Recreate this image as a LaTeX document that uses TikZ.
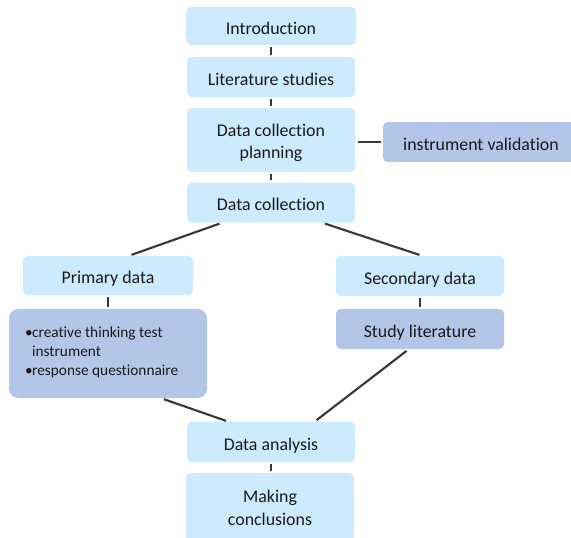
\documentclass[tikz,border=0pt]{standalone}
\usepackage{fontspec}
\setmainfont{Carlito}[Ligatures=CommonOff]
\usepackage{xcolor}
\usetikzlibrary{calc,positioning}
\definecolor{boxlight}{HTML}{CCEBFF}
\definecolor{boxdark}{HTML}{B4C6E7}
\definecolor{linkgray}{HTML}{383838}
\definecolor{textgray}{HTML}{1A1A1A}

\begin{document}
\begin{tikzpicture}[x=0.75pt,y=-0.75pt]
		\tikzstyle{every node}=[font=\fontsize{13.4}{16.3}\selectfont, text=textgray]
		\tikzstyle{box}=[fill=boxlight, rounded corners=3.5pt, minimum width=126pt, minimum height=30pt, align=flush center, inner sep=0pt, text height=12pt, text depth=0pt]
		\tikzstyle{boxdk}=[box, fill=boxdark]
		\tikzstyle{link}=[line width=1.6pt, draw=linkgray, shorten >=2pt, shorten <=2pt]
		\tikzstyle{tick}=[link, line width=1.8pt, shorten >=1.6pt, shorten <=1.6pt]
		\useasboundingbox (0,0) rectangle (571,537);
		\node [box, minimum width=127.5pt, minimum height=28.5pt] (intro) at (271,26) {Introduction};
		\node [box] (lit) at (271,77) {Literature studies};
		\node [box, minimum height=48pt, text width=120pt, text height=11.3pt, text depth=16.3pt] (plan) at (271,140) {Data collection\\planning};
		\node [boxdk, minimum width=147pt] (valid) at (481,142) {instrument validation};
		\node [box] (dc) at (271,202.5) {Data collection};
		\node [box, minimum width=127.5pt, minimum height=29.25pt] (prim) at (108,275.5) {Primary data};
		\node [box] (sec) at (420,276) {Secondary data};
		\node [boxdk, rounded corners=7pt, text width=124.5pt, inner xsep=12pt, minimum height=66.75pt, align=flush left, text height=4.6pt, text depth=28.6pt, font=\fontsize{11.5}{14.3}\selectfont] (bul) at (108,353.5) {\textbullet\kern-0.4pt creative thinking test\\\hphantom{\textbullet}\kern-0.4pt instrument\\\textbullet\kern-0.4pt response questionnaire};
		\node [boxdk] (study) at (420,329) {Study literature};
		\node [box] (da) at (271,442) {Data analysis};
		\node [box, minimum height=51.75pt, text width=120pt, text height=9.7pt, text depth=17.5pt, font=\fontsize{13.4}{17.5}\selectfont] (concl) at (270,507.5) {Making\\conclusions};
		\draw [tick] (intro) -- (lit);
		\draw [tick] (lit) -- (plan);
		\draw [tick] (plan) -- (dc);
		\draw [link, shorten >=1.5pt] (valid.west -| plan.east) -- (valid.west);
		\draw [link] ([xshift=-36.75pt]dc.south) -- ([xshift=15.75pt]prim.north);
		\draw [link] ([xshift=38.6pt]dc.south) -- ([xshift=1.5pt]sec.north);
		\draw [tick] (prim) -- (bul);
		\draw [tick] (sec) -- (study);
		\draw [link] ([xshift=40pt]bul.south) -- ([xshift=-31.8pt]da.north);
		\draw [link] ([xshift=-8.5pt]study.south) -- ([xshift=32.6pt]da.north);
		\draw [tick] (da.south) -- (da.south |- concl.north);
	\end{tikzpicture}
\end{document}
